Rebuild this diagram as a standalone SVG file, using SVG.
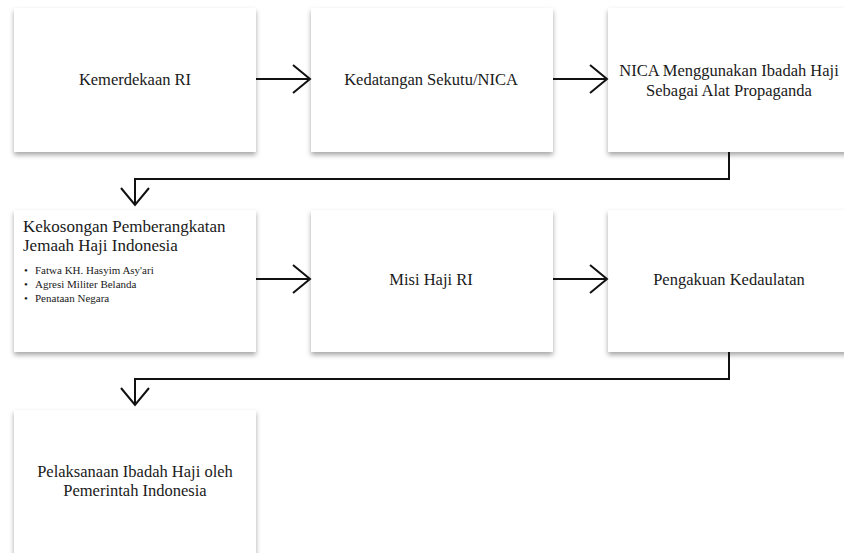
<svg xmlns="http://www.w3.org/2000/svg" width="844" height="553" viewBox="0 0 844 553">
<style>
.box{fill:#fff;filter:url(#sh)}
.t{font-family:"Liberation Serif","DejaVu Serif",serif;font-size:16.5px;fill:#1a1a1a;text-anchor:middle}
.tl{font-family:"Liberation Serif","DejaVu Serif",serif;font-size:17px;fill:#1a1a1a}
.b{font-family:"Liberation Serif","DejaVu Serif",serif;font-size:11px;fill:#1a1a1a}
.c{fill:none;stroke:#111;stroke-width:2}
</style>
<defs>
<filter id="sh" x="-10%" y="-10%" width="130%" height="130%">
<feDropShadow dx="0" dy="3" stdDeviation="2.5" flood-color="#000" flood-opacity="0.35"/>
</filter>
<marker id="ah" markerWidth="20" markerHeight="32" refX="18" refY="16" orient="auto" markerUnits="userSpaceOnUse">
<path d="M1,2 L18,16 L1,30" fill="none" stroke="#111" stroke-width="2"/>
</marker>
</defs>
<rect width="844" height="553" fill="#fff"/>
<g id="n1"><rect class="box" x="14" y="8" width="242" height="144"/><text class="t" x="135" y="85">Kemerdekaan RI</text></g>
<g id="n2"><rect class="box" x="311" y="8" width="242" height="144"/><text class="t" x="431" y="85">Kedatangan Sekutu/NICA</text></g>
<g id="n3"><rect class="box" x="608" y="8" width="242" height="144"/><text class="t" x="729" y="76">NICA Menggunakan Ibadah Haji</text><text class="t" x="729" y="96">Sebagai Alat Propaganda</text></g>
<g id="n4"><rect class="box" x="14" y="210" width="242" height="142"/>
<text class="tl" x="23" y="232">Kekosongan Pemberangkatan</text>
<text class="tl" x="23" y="251">Jemaah Haji Indonesia</text>
<text class="b" x="24" y="274">•</text><text class="b" x="35" y="274">Fatwa KH. Hasyim Asy'ari</text>
<text class="b" x="24" y="288">•</text><text class="b" x="35" y="288">Agresi Militer Belanda</text>
<text class="b" x="24" y="302">•</text><text class="b" x="35" y="302">Penataan Negara</text>
</g>
<g id="n5"><rect class="box" x="311" y="210" width="242" height="142"/><text class="t" x="431" y="285">Misi Haji RI</text></g>
<g id="n6"><rect class="box" x="608" y="210" width="242" height="142"/><text class="t" x="729" y="285">Pengakuan Kedaulatan</text></g>
<g id="n7"><rect class="box" x="14" y="410" width="242" height="150"/><text class="t" x="135" y="477">Pelaksanaan Ibadah Haji oleh</text><text class="t" x="135" y="496">Pemerintah Indonesia</text></g>
<g id="connectors">
<path class="c" d="M256,79 H310" marker-end="url(#ah)"/>
<path class="c" d="M553,79 H607" marker-end="url(#ah)"/>
<path class="c" d="M729,152 V179 H135 V205" marker-end="url(#ah)"/>
<path class="c" d="M256,279 H310" marker-end="url(#ah)"/>
<path class="c" d="M553,279 H607" marker-end="url(#ah)"/>
<path class="c" d="M729,352 V379 H135 V405" marker-end="url(#ah)"/>
</g>
</svg>
